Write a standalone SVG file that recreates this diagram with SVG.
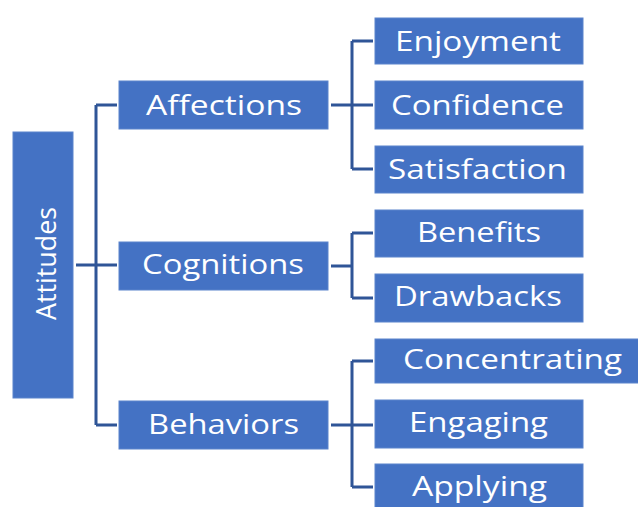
<svg xmlns="http://www.w3.org/2000/svg" width="638" height="507" viewBox="0 0 638 507">
  <style>
    .box { fill: #4472C4; stroke: #5b84cc; stroke-width: 1; }
    .lbl { fill: #ffffff; font-family: "Open Sans", "Noto Sans", "DejaVu Sans", sans-serif; font-size: 28px; }
    .wire { fill: none; stroke: #2F5597; stroke-width: 3; }
  </style>
  <rect width="638" height="507" fill="#ffffff"/>

  <!-- connectors -->
  <g id="connectors">
    <path class="wire" d="M76 265 H96 M96 105 V425 M96 105 H117 M96 265 H117 M96 425 H117"/>
    <path class="wire" d="M331 105 H352 M352 41 V169 M352 41 H373 M352 105 H373 M352 169 H373"/>
    <path class="wire" d="M331 266 H352 M352 233 V298 M352 233 H373 M352 298 H373"/>
    <path class="wire" d="M331 425 H352 M352 361 V487 M352 361 H373 M352 425 H373 M352 487 H373"/>
  </g>

  <g id="attitudes">
    <rect class="box" x="13" y="132" width="60" height="266"/>
    <text class="lbl" transform="translate(56 320) rotate(-90)" font-size="33" textLength="113" lengthAdjust="spacingAndGlyphs">Attitudes</text>
  </g>

  <g id="affections">
    <rect class="box" x="119" y="81" width="209" height="48"/>
    <text class="lbl" x="146" y="115" textLength="156" lengthAdjust="spacingAndGlyphs">Affections</text>
  </g>
  <g id="cognitions">
    <rect class="box" x="119" y="242" width="209" height="48"/>
    <text class="lbl" x="142" y="274" textLength="162" lengthAdjust="spacingAndGlyphs">Cognitions</text>
  </g>
  <g id="behaviors">
    <rect class="box" x="119" y="401" width="209" height="48"/>
    <text class="lbl" x="148" y="434" textLength="151" lengthAdjust="spacingAndGlyphs">Behaviors</text>
  </g>

  <g id="enjoyment">
    <rect class="box" x="375" y="18" width="208" height="46"/>
    <text class="lbl" x="395" y="51" textLength="166" lengthAdjust="spacingAndGlyphs">Enjoyment</text>
  </g>
  <g id="confidence">
    <rect class="box" x="375" y="81" width="208" height="48"/>
    <text class="lbl" x="391" y="115" textLength="173" lengthAdjust="spacingAndGlyphs">Confidence</text>
  </g>
  <g id="satisfaction">
    <rect class="box" x="375" y="146" width="208" height="47"/>
    <text class="lbl" x="388" y="179" textLength="179" lengthAdjust="spacingAndGlyphs">Satisfaction</text>
  </g>

  <g id="benefits">
    <rect class="box" x="375" y="210" width="208" height="47"/>
    <text class="lbl" x="417" y="242" textLength="124" lengthAdjust="spacingAndGlyphs">Benefits</text>
  </g>
  <g id="drawbacks">
    <rect class="box" x="375" y="274" width="208" height="48"/>
    <text class="lbl" x="394" y="306" textLength="168" lengthAdjust="spacingAndGlyphs">Drawbacks</text>
  </g>

  <g id="concentrating">
    <rect class="box" x="375" y="339" width="265" height="44"/>
    <text class="lbl" x="403" y="369" textLength="219" lengthAdjust="spacingAndGlyphs">Concentrating</text>
  </g>
  <g id="engaging">
    <rect class="box" x="375" y="400" width="208" height="48"/>
    <text class="lbl" x="409" y="432" textLength="139" lengthAdjust="spacingAndGlyphs">Engaging</text>
  </g>
  <g id="applying">
    <rect class="box" x="375" y="464" width="208" height="46"/>
    <text class="lbl" x="412" y="496" textLength="135" lengthAdjust="spacingAndGlyphs">Applying</text>
  </g>
</svg>
